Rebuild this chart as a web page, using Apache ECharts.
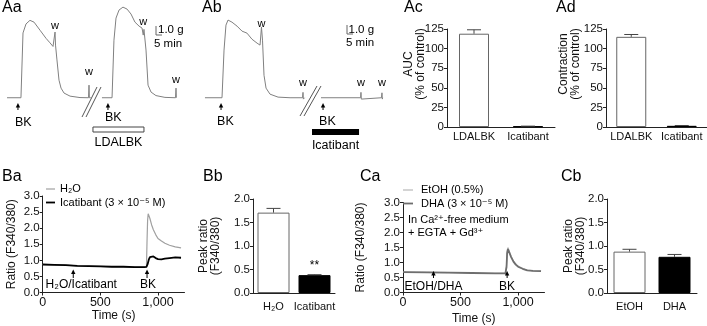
<!DOCTYPE html>
<html>
<head>
<meta charset="utf-8">
<script src="https://cdn.jsdelivr.net/npm/echarts@6/dist/echarts.min.js"></script>
<style>
  html, body { margin: 0; background: #fff; }
  #chart { width: 707px; height: 326px; }
</style>
</head>
<body>
<div id="chart"></div>
<script>
const FONT = '"Liberation Sans", Arial, "DejaVu Sans", sans-serif';

// ---- Aa / Ab : tension recordings (min, g); null = break in recording ----
const aaTime = [1.7, 13.3, 15, 17.5, 20.8, 24.2, 29.2, 34.2, 37.5, 40, 41.7, 42.1, 43.3, 45, 46.7, 49.2, 54.2, 62.5, 69.6, 70, 70.3, 71.5,
  75,
  80.8, 89.2, 90.8, 92.5, 95, 98.3, 101.7, 105, 108.3, 111.7, 114.2, 115.2, 115.8, 116.4, 117.5, 119.2, 121.7, 125.8, 133.3, 142.1, 142.5, 142.8, 143.3];
const aaTension = [0, 0, 7.2, 8.2, 8.6, 8.4, 7.5, 6.6, 6.1, 5.7, 7.3, 5.85, 4.2, 1.95, 1.07, 0.52, 0.18, 0.02, 0, 1.4, 0, 0,
  null,
  0, 0, 6.4, 8.85, 9.74, 10.07, 9.85, 9.3, 8.4, 7.96, 7.74, 6.96, 7.6, 7.4, 5.3, 1.4, 0.63, 0.24, 0.04, 0, 1.07, 0, 0];

const abTime = [8.3, 22.5, 24.2, 25.8, 27.5, 30.8, 35, 39.2, 43.3, 47.5, 51.7, 54.2, 55.4, 56.25, 57.5, 59.2, 62.5, 69.2, 79.2, 89.6, 90, 90.3, 90.6, 91.3,
  98,
  105, 138, 138.3, 138.6, 138.9, 155.4, 155.8, 156.1, 156.4, 156.7];
const abTension = [0, 0, 5.3, 8.07, 8.63, 8.4, 7.96, 7.4, 7.18, 6.5, 6.07, 5.85, 7.85, 6.4, 2.5, 1.07, 0.4, 0.07, 0, 0, 0.6, -0.15, 0, 0,
  null,
  0, 0, 0.6, -0.15, 0, 0, 0.55, -0.15, 0, 0];

const aaBK = [10.8, 85.8];
const aaWash = [41.7, 70, 115.2, 142.5];
const aaDrug = [73.3, 115.8];
const abBK = [21.7, 106.7];
const abWash = [55.4, 90, 138.3, 155.8];
const abDrug = [97.5, 136.7];

// ---- Ac / Ad : summary bars ----
const aCats = ['LDALBK', 'Icatibant'];
const acMean = [119, 0.8];
const acErr = [5, 0.3];
const adMean = [115, 1.5];
const adErr = [3, 0.4];

// ---- Ba : [Ca2+]i traces ----
const baTime = [0, 100, 200, 300, 400, 500, 600, 700, 800, 880, 900, 905, 910, 915, 920, 930, 945, 960, 980, 1000, 1030, 1060, 1100, 1150, 1200];
const baH2O = [0.87, 0.86, 0.85, 0.83, 0.82, 0.81, 0.80, 0.80, 0.79, 0.79, 0.80, 1.6, 2.25, 2.45, 2.42, 2.3, 2.1, 1.95, 1.8, 1.68, 1.6, 1.53, 1.47, 1.42, 1.39];
const baIcat = [0.87, 0.86, 0.85, 0.83, 0.82, 0.81, 0.80, 0.80, 0.79, 0.79, 0.80, 0.82, 0.88, 0.95, 1.02, 1.1, 1.14, 1.12, 1.07, 1.04, 1.03, 1.05, 1.07, 1.09, 1.08];
const baNames = ['H₂O', 'Icatibant (3 × 10⁻⁵ M)'];
const baEvents = [265, 905];

// ---- Bb ----
const bCats = ['H₂O', 'Icatibant'];
const bbMean = [1.71, 0.38];
const bbErr = [0.09, 0.01];
const bbSig = ['', '**'];

// ---- Ca ----
const caTime = [0, 200, 400, 600, 800, 890, 900, 905, 912, 920, 940, 960, 980, 1000, 1040, 1080, 1130, 1200];
const caEtOH = [0.68, 0.67, 0.66, 0.65, 0.64, 0.64, 0.9, 1.35, 1.5, 1.42, 1.2, 1.05, 0.95, 0.88, 0.8, 0.75, 0.72, 0.71];
const caDHA = [0.68, 0.67, 0.66, 0.65, 0.64, 0.64, 0.85, 1.3, 1.45, 1.4, 1.18, 1.03, 0.93, 0.86, 0.79, 0.74, 0.72, 0.71];
const caNames = ['EtOH (0.5%)', 'DHA (3 × 10⁻⁵ M)'];
const caEvents = [265, 905];

// ---- Cb ----
const cCats = ['EtOH', 'DHA'];
const cbMean = [0.88, 0.77];
const cbErr = [0.05, 0.05];

const zip = (xs, ys) => xs.map((x, i) => [x, ys[i] == null ? '-' : ys[i]]);

const chart = echarts.init(document.getElementById('chart'));

function valueAxis(gi, min, max, interval, extra) {
  return Object.assign({
    type: 'value', gridIndex: gi, min: min, max: max, interval: interval,
    axisLine: { show: true, lineStyle: { color: '#222', width: 1 } },
    axisTick: { show: true, length: 3, lineStyle: { color: '#222' } },
    axisLabel: { fontSize: 11.5, color: '#111', margin: 3 },
    splitLine: { show: false },
    nameLocation: 'middle', nameMoveOverlap: false,
    nameTextStyle: { fontSize: 12, color: '#111', lineHeight: 12 }
  }, extra);
}
function catAxis(gi, cats, margin) {
  return {
    type: 'category', gridIndex: gi, data: cats,
    axisLine: { show: true, lineStyle: { color: '#222', width: 1 } },
    axisTick: { show: false },
    axisLabel: { fontSize: 11, color: '#111', margin: margin, interval: 0 }
  };
}
function hidden(gi, min, max) {
  return { type: 'value', gridIndex: gi, min: min, max: max, show: false };
}
function timeAxis(gi, gap) {
  return valueAxis(gi, 0, 1230, 500, {
    name: 'Time (s)', nameGap: gap,
    axisLabel: { fontSize: 12.5, color: '#111', margin: 4, customValues: [0, 500, 1000] },
    axisTick: { show: true, length: 3, lineStyle: { color: '#222' }, customValues: [0, 500, 1000] }
  });
}
const fixed1 = { fontSize: 11.5, color: '#111', margin: 3, formatter: v => v.toFixed(1) };
// name raised above the axis middle (left padding on rotated text)
const raisedName = { fontSize: 12, color: '#111', lineHeight: 12, padding: [0, 0, 0, 28] };
function bars(ai, means, fills, barW, sig) {
  return {
    type: 'bar', xAxisIndex: ai, yAxisIndex: ai, barWidth: barW, z: 2,
    data: means.map((v, i) => ({
      value: v,
      itemStyle: { color: fills[i], borderColor: fills[i] === '#fff' ? '#666' : '#000', borderWidth: 1 },
      label: sig && sig[i] ? { show: true, formatter: sig[i], position: 'top', distance: 3, fontSize: 12, color: '#000' } : { show: false }
    }))
  };
}
function errBars(ai, means, errs) {
  return {
    type: 'custom', xAxisIndex: ai, yAxisIndex: ai, z: 3,
    data: means.map((m, i) => [i, m, errs[i]]),
    renderItem: function (params, api) {
      const i = api.value(0), m = api.value(1), e = api.value(2);
      const p0 = api.coord([i, m]), p1 = api.coord([i, m + e]);
      const hw = 7;
      return { type: 'group', children: [
        { type: 'line', shape: { x1: p0[0], y1: p0[1], x2: p1[0], y2: p1[1] }, style: { stroke: '#444', lineWidth: 1 } },
        { type: 'line', shape: { x1: p1[0] - hw, y1: p1[1], x2: p1[0] + hw, y2: p1[1] }, style: { stroke: '#444', lineWidth: 1 } }
      ] };
    }
  };
}
function trace(ai, name, data, color, width) {
  return {
    type: 'line', name: name, xAxisIndex: ai, yAxisIndex: ai, data: data,
    symbol: 'none', connectNulls: false,
    lineStyle: { color: color, width: width }, itemStyle: { color: color }
  };
}

const lineCol = { ba: ['#a0a0a0', '#000'], ca: ['#b8b8b8', '#6e6e6e'] };
const lineW = [1.2, 1.8];

const option = {
  animation: false,
  textStyle: { fontFamily: FONT },
  grid: [
    { left: 5, top: 0, width: 180, height: 100 },
    { left: 195, top: 0, width: 190, height: 100 },
    { left: 447, top: 29, width: 108, height: 98 },
    { left: 606, top: 29, width: 101, height: 98 },
    { left: 42.7, top: 196, width: 141.8, height: 96.5 },
    { left: 253, top: 199, width: 82, height: 94 },
    { left: 403, top: 202.5, width: 141.5, height: 90 },
    { left: 607, top: 199, width: 90, height: 94 }
  ],
  xAxis: [
    hidden(0, 0, 150),
    hidden(1, 0, 158.33),
    catAxis(2, aCats, 4),
    catAxis(3, aCats, 4),
    timeAxis(4, 17),
    catAxis(5, bCats, 8),
    timeAxis(6, 20),
    catAxis(7, cCats, 8)
  ],
  yAxis: [
    hidden(0, -0.25, 10.86),
    hidden(1, -0.25, 10.86),
    valueAxis(2, 0, 125, 25, { name: 'AUC\n(% of control)', nameGap: 20, nameTextStyle: raisedName }),
    valueAxis(3, 0, 125, 25, { name: 'Contraction\n(% of control)', nameGap: 24, nameTextStyle: raisedName }),
    valueAxis(4, 0, 3, 0.5, { name: 'Ratio (F340/380)', nameGap: 25, axisLabel: fixed1 }),
    valueAxis(5, 0, 2, 0.5, { name: 'Peak ratio\n(F340/380)', nameGap: 31, axisLabel: fixed1 }),
    valueAxis(6, 0, 3, 0.5, { name: 'Ratio (F340/380)', nameGap: 36, axisLabel: fixed1 }),
    valueAxis(7, 0, 2, 0.5, { name: 'Peak ratio\n(F340/380)', nameGap: 20, axisLabel: fixed1 })
  ],
  series: [
    trace(0, 'Aa', zip(aaTime, aaTension), '#808080', 1),
    trace(1, 'Ab', zip(abTime, abTension), '#808080', 1),
    bars(2, acMean, ['#fff', '#000'], 30),
    errBars(2, acMean, acErr),
    bars(3, adMean, ['#fff', '#000'], 30),
    errBars(3, adMean, adErr),
    trace(4, baNames[0], zip(baTime, baH2O), lineCol.ba[0], lineW[0]),
    trace(4, baNames[1], zip(baTime, baIcat), lineCol.ba[1], lineW[1]),
    bars(5, bbMean, ['#fff', '#000'], 32, bbSig),
    errBars(5, bbMean, bbErr),
    trace(6, caNames[0], zip(caTime, caEtOH), lineCol.ca[0], lineW[0]),
    trace(6, caNames[1], zip(caTime, caDHA), lineCol.ca[1], lineW[1]),
    bars(7, cbMean, ['#fff', '#000'], 32),
    errBars(7, cbMean, cbErr)
  ]
};
chart.setOption(option);

// ---- annotations, placed through the axes' own scales ----
const px = (g, x, y) => chart.convertToPixel({ gridIndex: g }, [x, y]);

function txt(text, x, y, size, align) {
  const a = align || 'left';
  return { type: 'text', z: 100, style: {
    text: text, x: x, y: y, font: size + 'px ' + FONT, fill: '#000',
    align: a, verticalAlign: 'middle', textAlign: a, textVerticalAlign: 'middle'
  } };
}
function seg(x1, y1, x2, y2, color, w) {
  return { type: 'line', z: 100, shape: { x1: x1, y1: y1, x2: x2, y2: y2 }, style: { stroke: color || '#000', lineWidth: w || 1 } };
}
function arrow(x, yTail, yTip) {
  return [
    seg(x, yTail, x, yTip + 3),
    { type: 'polygon', z: 100, shape: { points: [[x, yTip], [x - 2.2, yTip + 4.5], [x + 2.2, yTip + 4.5]] }, style: { fill: '#000' } }
  ];
}
function scaleBar(g, cx, cy) {
  const o = px(g, 0, 0);
  const dy = o[1] - px(g, 0, 1)[1];
  const dx = px(g, 5, 0)[0] - o[0];
  return { type: 'polyline', z: 100, shape: { points: [[cx, cy - dy], [cx, cy], [cx + dx, cy]] }, style: { stroke: '#666', lineWidth: 1, fill: null } };
}
function legendBlock(names, cols, x0, y0, len, textX) {
  const out = [];
  names.forEach((n, i) => {
    const y = y0 + i * 13.5;
    out.push(seg(x0, y, x0 + len, y, cols[i], lineW[i]));
    out.push(txt(n, textX, y, 11));
  });
  return out;
}

const gfx = [];
// panel letters
[['Aa', 2, 8], ['Ab', 202, 8], ['Ac', 404, 8], ['Ad', 556, 8],
 ['Ba', 2, 177], ['Bb', 203, 177], ['Ca', 360, 177], ['Cb', 561, 177]]
  .forEach(p => gfx.push(txt(p[0], p[1], p[2], 16)));

// Aa
const aaBKy = [123, 118];
aaBK.forEach((t, i) => {
  const x = px(0, t, 0)[0];
  gfx.push(...arrow(x, 110, 103));
  gfx.push(txt('BK', x - 3, aaBKy[i], 12.5));
});
const aaWy = [26, 72, 22, 80];
aaWash.forEach((t, i) => gfx.push(txt('w', px(0, t, 0)[0], aaWy[i], 11, 'center')));
gfx.push(seg(82, 117, 97, 87, '#555'), seg(86, 117, 101, 87, '#555'));
{
  const x1 = px(0, aaDrug[0], 0)[0], x2 = px(0, aaDrug[1], 0)[0];
  gfx.push({ type: 'rect', z: 100, shape: { x: x1, y: 127, width: x2 - x1, height: 5 }, style: { fill: '#fff', stroke: '#444', lineWidth: 1 } });
  gfx.push(txt('LDALBK', (x1 + x2) / 2, 143, 12.5, 'center'));
}
gfx.push(scaleBar(0, 156, 35));
gfx.push(txt('1.0 g', 158, 30, 11.5), txt('5 min', 154, 43.5, 11.5));

// Ab
abBK.forEach(t => {
  const x = px(1, t, 0)[0];
  gfx.push(...arrow(x, 110, 103));
  gfx.push(txt('BK', x - 4, 122, 12.5));
});
const abWy = [24, 83, 83, 83];
abWash.forEach((t, i) => gfx.push(txt('w', px(1, t, 0)[0], abWy[i], 11, 'center')));
gfx.push(seg(300, 116, 317, 86, '#555'), seg(304, 116, 321, 86, '#555'));
{
  const x1 = px(1, abDrug[0], 0)[0], x2 = px(1, abDrug[1], 0)[0];
  gfx.push({ type: 'rect', z: 100, shape: { x: x1, y: 129, width: x2 - x1, height: 6 }, style: { fill: '#000' } });
  gfx.push(txt('Icatibant', (x1 + x2) / 2, 146, 12.5, 'center'));
}
gfx.push(scaleBar(1, 347, 34));
gfx.push(txt('1.0 g', 348.5, 29.5, 11.5), txt('5 min', 346, 43, 11.5));

// Ba
gfx.push(...legendBlock(baNames, lineCol.ba, 46, 189, 9, 60));
const baLabels = ['H₂O/Icatibant', 'BK'];
const baDx = [8, 1];
baEvents.forEach((t, i) => {
  const x = px(4, t, 0)[0];
  gfx.push(...arrow(x, 278, 269.5));
  gfx.push(txt(baLabels[i], x + baDx[i], 285, 12, 'center'));
});

// Ca
gfx.push(...legendBlock(caNames, lineCol.ca, 403, 190, 10, 421));
const caLabels = ['EtOH/DHA', 'BK'];
caEvents.forEach((t, i) => {
  const x = px(6, t, 0)[0];
  gfx.push(...arrow(x, 278, 271));
  gfx.push(txt(caLabels[i], x, 286.5, 12, 'center'));
});
gfx.push(txt('In Ca²⁺-free medium', 408, 220, 11), txt('+ EGTA + Gd³⁺', 408, 232.5, 11));

chart.setOption({ graphic: gfx });
</script>
</body>
</html>
